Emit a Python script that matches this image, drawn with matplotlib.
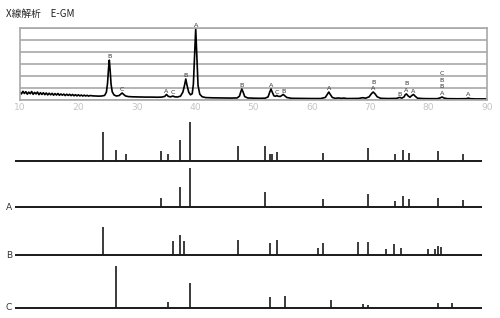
import matplotlib
matplotlib.use("Agg")
import matplotlib.pyplot as plt

plt.rcParams['font.family'] = ['Noto Sans CJK JP', 'DejaVu Sans']

# ---------------- data ----------------
title_text = "X線解析　E-GM"

xrd_2theta = [
    10.0, 10.25, 10.5, 10.75, 11.0, 11.25, 11.5, 11.75, 12.0, 12.25, 12.5, 12.75,
    13.0, 13.25, 13.5, 13.75, 14.0, 14.25, 14.5, 14.75, 15.0, 15.25, 15.5, 15.75,
    16.0, 16.25, 16.5, 16.75, 17.0, 17.25, 17.5, 17.75, 18.0, 18.25, 18.5, 18.75,
    19.0, 19.25, 19.5, 19.75, 20.0, 20.25, 20.5, 20.75, 21.0, 21.25, 21.5, 21.75,
    22.0, 22.5, 23.0, 23.5, 24.0, 24.5, 24.8, 25.0, 25.15, 25.3, 25.45, 25.6,
    25.8, 26.1, 26.5, 27.0, 27.2, 27.5, 27.8, 28.1, 28.6, 29.5, 30.5, 31.5,
    32.5, 33.5, 34.3, 34.8, 35.1, 35.4, 35.8, 36.2, 36.5, 37.0, 37.5, 37.9,
    38.2, 38.4, 38.6, 38.9, 39.2, 39.5, 39.7, 39.9, 40.1, 40.3, 40.5, 40.8,
    41.2, 41.8, 43.0, 44.5, 46.0, 47.2, 47.6, 47.85, 48.0, 48.2, 48.5, 49.0,
    50.0, 51.0, 52.0, 52.5, 52.8, 53.0, 53.2, 53.5, 53.8, 54.0, 54.2, 54.6,
    54.9, 55.1, 55.3, 55.7, 56.5, 58.0, 60.0, 61.5, 62.3, 62.7, 62.9, 63.1,
    63.5, 64.0, 64.5, 65.0, 65.5, 66.0, 68.0, 68.7, 69.2, 69.8, 70.2, 70.5,
    70.8, 71.2, 71.8, 73.0, 74.5, 74.9, 75.1, 75.4, 75.8, 76.0, 76.2, 76.5,
    76.8, 77.1, 77.4, 77.7, 78.1, 79.0, 80.0, 81.5, 82.0, 82.3, 82.6, 83.2,
    85.0, 86.5, 86.8, 87.1, 88.0, 90.0,
]
xrd_counts = [
    640, 500, 720, 540, 690, 480, 650, 520, 700, 470, 630, 500,
    660, 440, 610, 460, 600, 440, 580, 420, 560, 430, 550, 400,
    530, 410, 540, 390, 500, 400, 490, 370, 480, 380, 470, 360,
    460, 350, 440, 340, 430, 340, 410, 330, 400, 330, 390, 320,
    370, 340, 330, 320, 330, 380, 650, 1400, 2500, 3300, 2400, 1300,
    680, 420, 330, 370, 460, 580, 440, 330, 280, 260, 250, 240,
    240, 230, 240, 300, 460, 300, 260, 330, 260, 250, 320, 650,
    1250, 1740, 1250, 650, 430, 520, 1300, 3600, 5900, 3500, 1200, 480,
    270, 200, 180, 170, 160, 170, 320, 720, 910, 680, 280, 170,
    150, 140, 150, 260, 680, 910, 660, 340, 310, 370, 310, 290,
    390, 460, 370, 210, 140, 130, 120, 120, 210, 500, 660, 500,
    210, 140, 170, 140, 160, 120, 130, 190, 150, 260, 520, 660,
    520, 260, 140, 120, 130, 200, 210, 150, 260, 440, 500, 330,
    230, 360, 460, 310, 150, 120, 110, 110, 180, 250, 170, 110,
    100, 110, 160, 110, 90, 90,
]

# peak labels on the pattern: position, letter, stack level
label_2theta = [25.3, 27.5, 35.1, 36.2, 38.4, 40.1, 48.0, 53.0, 54.0, 55.1, 62.9,
                70.5, 70.5, 75.1, 76.2, 76.2, 77.4, 82.3, 82.3, 82.3, 82.3, 86.8]
label_text = ['B', 'C', 'A', 'C', 'B', 'A', 'B', 'A', 'C', 'B', 'A',
              'A', 'B', 'B', 'A', 'B', 'A', 'A', 'B', 'B', 'C', 'A']
label_level = [0, 0, 0, 0, 0, 0, 0, 0, 0, 0, 0,
               0, 1, 0, 0, 1, 0, 0, 1, 2, 3, 0]
label_peak_counts = [3300, 580, 460, 330, 1740, 5900, 910, 910, 370, 460, 660,
                     660, 660, 210, 500, 500, 460, 250, 250, 250, 250, 160]

x_ticks = [10, 20, 30, 40, 50, 60, 70, 80, 90]

# reference stick patterns (2θ, relative intensity)
all_pos = [25.17, 27.30, 28.96, 35.09, 36.18, 38.24, 40.03, 48.16, 52.92, 53.78,
           54.01, 54.99, 62.83, 70.51, 75.15, 76.48, 77.61, 82.55, 86.79]
all_int = [73, 27, 17, 24, 18, 53, 100, 38, 38, 16,
           18, 22, 21, 33, 16, 28, 21, 24, 17]

a_pos = [35.09, 38.24, 40.03, 52.92, 62.83, 70.51, 75.15, 76.48, 77.61, 82.55, 86.79]
a_int = [24, 53, 100, 39, 21, 33, 16, 28, 21, 24, 18]

b_pos = [25.17, 37.11, 38.24, 38.93, 48.16, 53.78, 54.99, 61.97, 62.83, 68.74,
         70.46, 73.66, 75.03, 76.19, 80.78, 82.03, 82.60, 83.12]
b_int = [72, 37, 51, 36, 38, 31, 39, 19, 31, 33,
         33, 15, 29, 20, 15, 16, 24, 22]

c_pos = [27.24, 36.18, 39.96, 53.78, 56.24, 64.27, 69.71, 70.46, 82.55, 85.01]
c_int = [108, 16, 64, 27, 30, 20, 9, 8, 12, 12]

stick_sets = [("", all_pos, all_int), ("A", a_pos, a_int),
              ("B", b_pos, b_int), ("C", c_pos, c_int)]

# ---------------- figure ----------------
W, H = 500, 318
fig = plt.figure(figsize=(W / 100, H / 100), dpi=100)
fig.patch.set_facecolor('white')

def fx(px):
    return px / W

def fy(py):
    return 1 - py / H

fig.text(fx(6), fy(14), title_text, fontsize=7.0, color='#222222',
         ha='left', va='center')

# top pattern axes
top_l, top_r, top_t, top_b = 20, 487, 27.5, 100
ax = fig.add_axes([fx(top_l), fy(top_b), (top_r - top_l) / W, (top_b - top_t) / H])
ax.plot(xrd_2theta, xrd_counts, color='black', lw=1.2, solid_joinstyle='round')
ax.set_xlim(10, 90)
ax.set_ylim(0, 6000)
ax.set_yticks([0, 1000, 2000, 3000, 4000, 5000, 6000])
ax.yaxis.grid(True, color='#a8a8a8', lw=1.2)
ax.set_axisbelow(True)
ax.tick_params(axis='y', left=False, labelleft=False)
ax.set_xticks(x_ticks)
ax.set_xticklabels([str(t) for t in x_ticks], fontsize=6.6, color='#c4c4c4',
                   family=['DejaVu Sans'])
ax.tick_params(axis='x', length=0, pad=2.5)
for s in ax.spines.values():
    s.set_color('#a8a8a8')
    s.set_linewidth(1.2)

for x, t, lev, yc in zip(label_2theta, label_text, label_level, label_peak_counts):
    ax.annotate(t, (x, yc), xytext=(0, 0.6 + 4.8 * lev), textcoords='offset points',
                ha='center', va='bottom', fontsize=4.6, color='#333333',
                family=['DejaVu Sans'])

# stick panels
baselines = [160.7, 207.3, 255.3, 308.0]
px_per_unit = 0.39
ylo, yhi = -5, 115
for (name, pos, inten), by in zip(stick_sets, baselines):
    bottom_px = by - ylo * px_per_unit
    height_px = (yhi - ylo) * px_per_unit
    sax = fig.add_axes([fx(15), fy(bottom_px), 466.5 / W, height_px / H])
    sax.set_xlim(10, 90)
    sax.set_ylim(ylo, yhi)
    sax.axhline(0, color='#1a1a1a', lw=1.4)
    sax.vlines(pos, 0, inten, color='#1a1a1a', lw=1.2)
    sax.axis('off')
    if name:
        fig.text(fx(9), fy(by), name, fontsize=6.5, color='#333333',
                 ha='center', va='center', family=['DejaVu Sans'])

fig.savefig("out.png", dpi=100, facecolor='white')
